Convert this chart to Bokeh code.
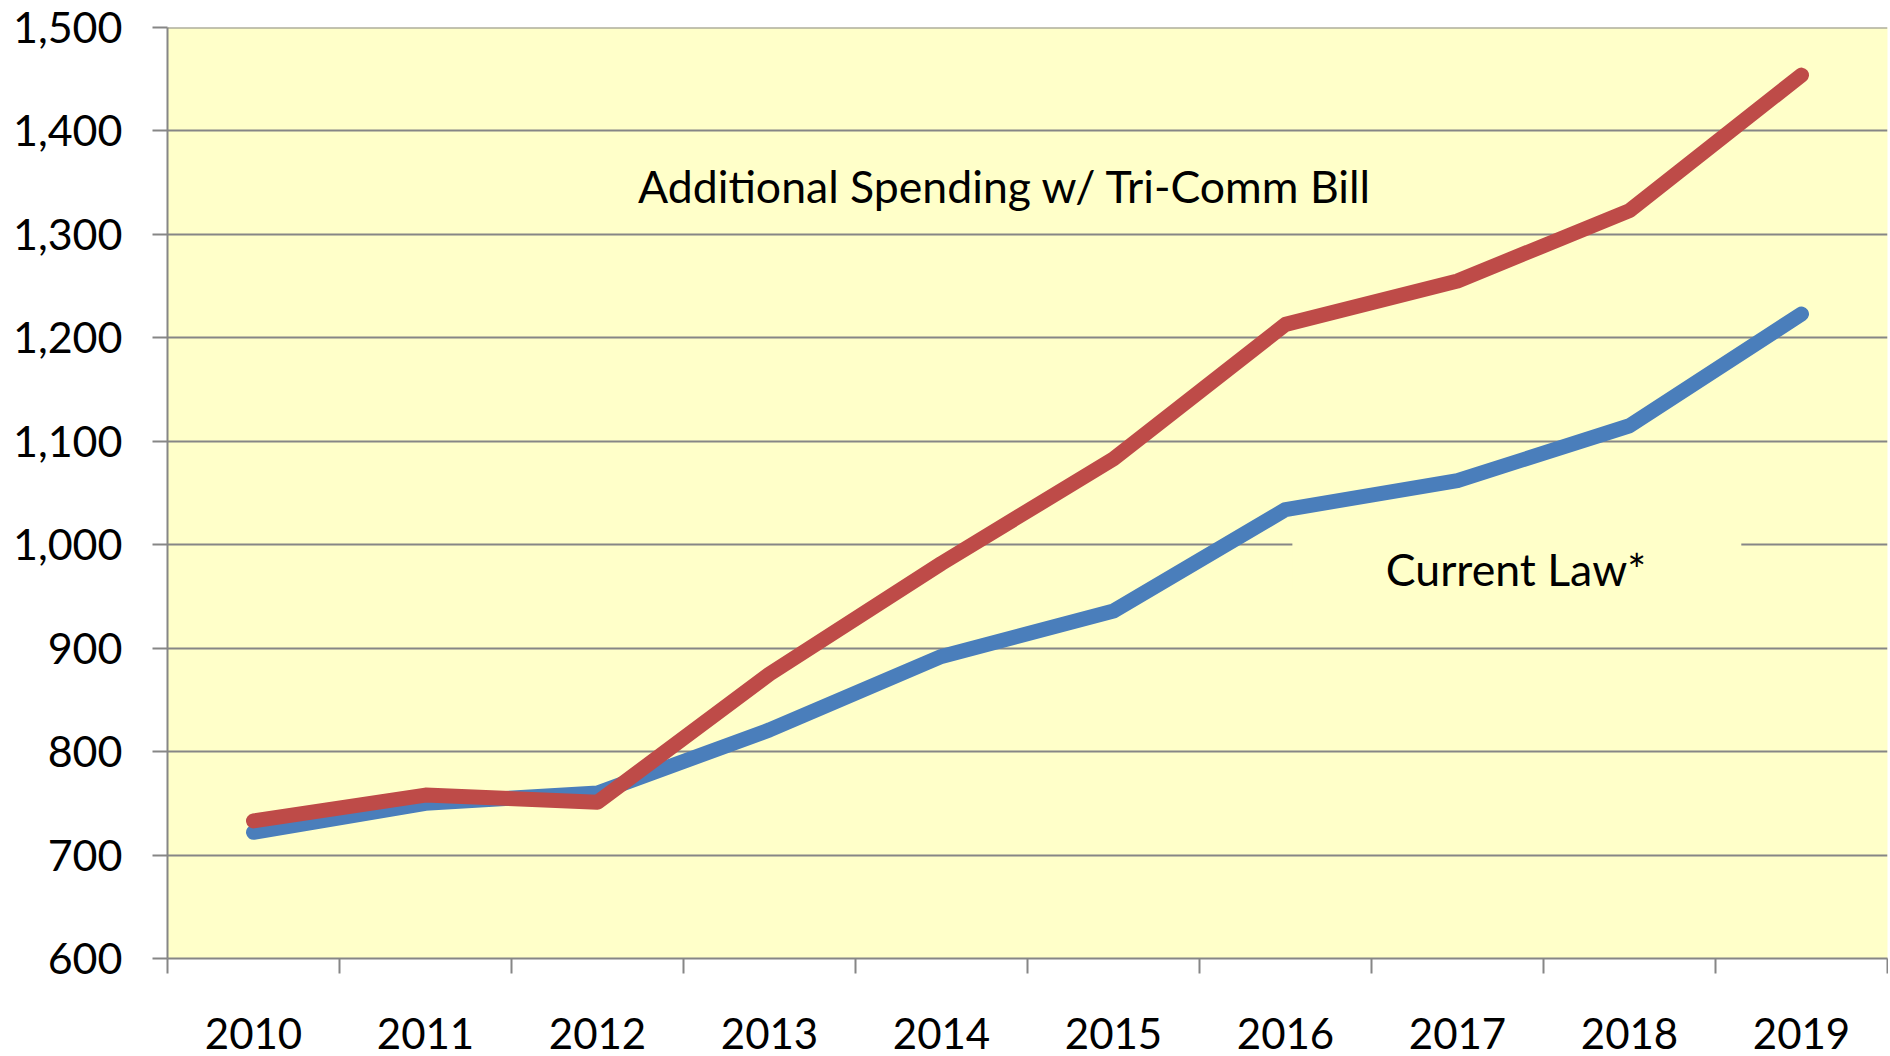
from bokeh.embed import file_html
from bokeh.resources import INLINE
from bokeh.plotting import figure
from bokeh.models import FixedTicker, Label, Range1d, NumeralTickFormatter, Span

years = [2010, 2011, 2012, 2013, 2014, 2015, 2016, 2017, 2018, 2019]
current_law = [722, 750, 760, 821, 892, 936, 1034, 1062, 1115, 1223]
tri_comm = [733, 758, 751, 875, 982, 1083, 1213, 1255, 1323, 1454]
y_ticks = [600, 700, 800, 900, 1000, 1100, 1200, 1300, 1400, 1500]

FONT = "Lato"
GRAY = "#868686"
BG = "#FFFFC9"

p = figure(width=1888, height=1056, output_backend="svg", toolbar_location=None,
           x_range=Range1d(2009.5, 2019.5), y_range=Range1d(600, 1500),
           min_border_left=167, min_border_right=1, min_border_top=27, min_border_bottom=98)
p.outline_line_color = None
p.background_fill_color = BG
p.xgrid.visible = False
p.ygrid.grid_line_color = GRAY
p.ygrid.grid_line_width = 2
p.ygrid.ticker = FixedTicker(ticks=y_ticks)

p.yaxis.ticker = FixedTicker(ticks=y_ticks)
p.yaxis.formatter = NumeralTickFormatter(format="0,0")
p.yaxis.major_label_text_font = FONT
p.yaxis.major_label_text_font_size = "43px"
p.yaxis.major_label_text_color = "black"
p.yaxis.major_label_standoff = 30
p.yaxis.axis_line_color = GRAY
p.yaxis.axis_line_width = 2
p.yaxis.major_tick_line_color = GRAY
p.yaxis.major_tick_line_width = 2
p.yaxis.major_tick_out = 15
p.yaxis.major_tick_in = 0
p.yaxis.minor_tick_line_color = None

p.xaxis.ticker = FixedTicker(ticks=years, minor_ticks=[y - 0.5 for y in years] + [2019.5])
p.xaxis.major_label_overrides = {y: str(y) for y in years}
p.xaxis.major_label_text_font = FONT
p.xaxis.major_label_text_font_size = "42px"
p.xaxis.major_label_text_color = "black"
p.xaxis.major_label_standoff = 44
p.xaxis.axis_line_color = GRAY
p.xaxis.axis_line_width = 2
p.xaxis.major_tick_line_color = None
p.xaxis.major_tick_out = 0
p.xaxis.major_tick_in = 0
p.xaxis.minor_tick_line_color = GRAY
p.xaxis.minor_tick_line_width = 2
p.xaxis.minor_tick_out = 15
p.xaxis.minor_tick_in = 0

p.add_layout(Span(location=1500, dimension="width", line_color=GRAY, line_width=2))

# text box of "Current Law*" that hides the gridline behind it
p.quad(left=[2016.04], right=[2018.65], bottom=[955], top=[1002], fill_color=BG, line_color=None)

p.line(years, current_law, line_color="#4A7EBB", line_width=15, line_cap="round", line_join="round")
p.line(years, tri_comm, line_color="#BE4B48", line_width=15, line_cap="round", line_join="round")

p.add_layout(Label(x=2014.37, y=1347, text="Additional Spending w/ Tri-Comm Bill", text_font=FONT,
                   text_font_size="44.6px", text_align="center", text_baseline="middle", text_color="black"))
p.add_layout(Label(x=2017.34, y=977, text="Current Law*", text_font=FONT,
                   text_font_size="44.6px", text_align="center", text_baseline="middle", text_color="black"))

open("out.html", "w").write(file_html(p, INLINE))
